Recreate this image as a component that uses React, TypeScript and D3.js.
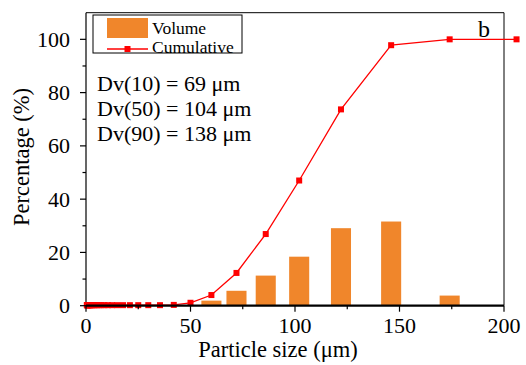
import React from "react";
import * as d3 from "d3";

const barSizes = [60, 72, 86, 102, 122, 146, 174];
const volume = [1.9, 5.6, 11.3, 18.4, 29.1, 31.6, 3.8];

const cumSizes = [0.4, 0.46, 0.55, 0.66, 0.78, 0.93, 1.1, 1.3, 1.6, 1.9, 2.2, 2.6, 3.1, 3.7, 4.4, 5.3, 6.2, 7.4, 8.8, 10.5, 12.5, 14.9, 17.7, 21, 25, 29.8, 35.4, 42, 50, 60, 72, 86, 102, 122, 146, 174, 206];
const cumulative = [0.2, 0.2, 0.2, 0.2, 0.2, 0.2, 0.2, 0.2, 0.2, 0.2, 0.2, 0.2, 0.2, 0.2, 0.2, 0.2, 0.2, 0.2, 0.2, 0.2, 0.2, 0.2, 0.2, 0.2, 0.2, 0.2, 0.2, 0.3, 1.1, 4.0, 12.3, 26.9, 47.0, 73.7, 97.8, 100, 100];

const xTicks = [0, 50, 100, 150, 200];
const xMinor = [25, 75, 125, 175];
const yTicks = [0, 20, 40, 60, 80, 100];
const yMinor = [10, 30, 50, 70, 90];
const annotations = ["Dv(10) = 69 μm", "Dv(50) = 104 μm", "Dv(90) = 138 μm"];
const legendLabels = ["Volume", "Cumulative"];

const W = 526, H = 365;
const left = 86, right = 504, top = 12.7, bottom = 305.7;
const BAR = "#F0862B";
const RED = "#FF0000";
const FONT = "'Liberation Serif', 'Times New Roman', serif";

export default function App() {
  const x = d3.scaleLinear().domain([0, 200]).range([left, right]);
  const y = d3.scaleLinear().domain([0, 110]).range([bottom, top]);
  const barW = x(9.6) - x(0);
  const line = d3.line<number>().x((_, i) => x(cumSizes[i])).y((d) => y(d));
  const path = line(cumulative) || "";
  const ms = 6;

  return (
    <svg width={W} height={H} style={{ position: "absolute", left: 0, top: 0, background: "#fff" }} fontFamily={FONT}>
      {/* bars */}
      {volume.map((v, i) => (
        <rect key={i} x={x(barSizes[i]) - barW / 2} y={y(v)} width={barW} height={y(0) - y(v)} fill={BAR} />
      ))}
      {/* frame */}
      <line x1={left} x2={left} y1={top} y2={bottom} stroke="#000" strokeWidth={1.2} />
      <line x1={left} x2={right} y1={top} y2={top} stroke="#000" strokeWidth={1} />
      <line x1={right} x2={right} y1={top} y2={bottom} stroke="#000" strokeWidth={1} />
      {/* cumulative line */}
      <path d={path} fill="none" stroke={RED} strokeWidth={1.3} />
      {cumulative.map((v, i) => (
        <rect key={i} x={x(cumSizes[i]) - ms / 2} y={y(v) - ms / 2} width={ms} height={ms} fill={RED} />
      ))}
      <line x1={left} x2={right} y1={bottom} y2={bottom} stroke="#000" strokeWidth={2.2} />
      {/* y ticks */}
      {yTicks.map((t) => (
        <g key={t}>
          <line x1={left - 6} x2={left} y1={y(t)} y2={y(t)} stroke="#000" strokeWidth={1.2} />
          <text x={left - 16} y={y(t) + 7.5} textAnchor="end" fontSize={22}>{t}</text>
        </g>
      ))}
      {yMinor.map((t) => (
        <line key={t} x1={left - 3.5} x2={left} y1={y(t)} y2={y(t)} stroke="#000" strokeWidth={1.2} />
      ))}
      {/* x ticks */}
      {xTicks.map((t) => (
        <g key={t}>
          <line x1={x(t)} x2={x(t)} y1={bottom} y2={bottom + 6} stroke="#000" strokeWidth={1.2} />
          <text x={x(t)} y={333} textAnchor="middle" fontSize={22}>{t}</text>
        </g>
      ))}
      {xMinor.map((t) => (
        <line key={t} x1={x(t)} x2={x(t)} y1={bottom} y2={bottom + 3.5} stroke="#000" strokeWidth={1.2} />
      ))}
      {/* axis titles */}
      <text x={278} y={357} textAnchor="middle" fontSize={22.5}>Particle size (μm)</text>
      <text transform={`translate(29,157) rotate(-90)`} textAnchor="middle" fontSize={22.5}>Percentage (%)</text>
      {/* legend */}
      <rect x={93} y={15} width={149} height={38} fill="#fff" stroke="#000" strokeWidth={1} />
      <rect x={107} y={18} width={41} height={20} fill={BAR} />
      <text x={152} y={34} fontSize={17.5}>{legendLabels[0]}</text>
      <line x1={107} x2={148} y1={49} y2={49} stroke={RED} strokeWidth={1.3} />
      <rect x={127.5 - 3} y={46} width={6} height={6} fill={RED} />
      <text x={152} y={53} fontSize={17.5}>{legendLabels[1]}</text>
      {/* annotations */}
      {annotations.map((a, i) => (
        <text key={i} x={97} y={91 + i * 25} fontSize={22}>{a}</text>
      ))}
      <text x={478} y={36.5} fontSize={24}>b</text>
    </svg>
  );
}
